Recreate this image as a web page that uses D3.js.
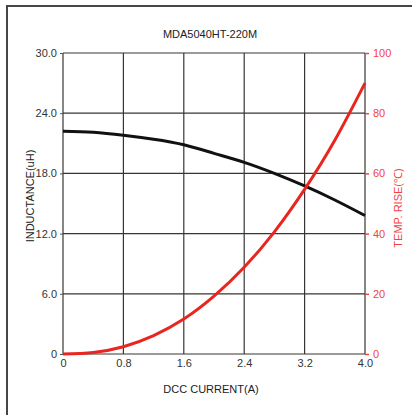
<html>
<head>
  <style>
    body { margin: 0; background: #fff; }
    svg text { font-family: "Liberation Sans", Arial, sans-serif; }
    .grid line { stroke: #3a3535; stroke-width: 1.2px; }
    .left text, .bottom text { fill: #333; font-size: 11px; }
    .right text { fill: #f04444; font-size: 11px; }
  </style>
</head>
<body>
  <div id="chart"></div>
  <script src="https://cdnjs.cloudflare.com/ajax/libs/d3/7.8.5/d3.min.js"></script>
  <script>
  // values
  var current     = [0, 0.4, 0.8, 1.2, 1.6, 2.0, 2.4, 2.8, 3.2, 3.6, 4.0];
  var inductance  = [22.2, 22.1, 21.8, 21.4, 20.85, 20.0, 19.1, 18.0, 16.75, 15.35, 13.8];
  var tempRise    = [0, 0.5, 2.4, 6.1, 11.6, 19.2, 28.8, 40.6, 54.7, 71.0, 90.0];
  var xTicks      = [0, 0.8, 1.6, 2.4, 3.2, 4.0];
  var xTickLabels = ["0", "0.8", "1.6", "2.4", "3.2", "4.0"];
  var yTicks      = [0, 6, 12, 18, 24, 30];
  var yTickLabels = ["0", "6.0", "12.0", "18.0", "24.0", "30.0"];
  var tTicks      = [0, 20, 40, 60, 80, 100];

  var W = 412, H = 415;
  var pLeft = 63, pRight = 365, pTop = 53, pBottom = 354;

  var svg = d3.select("#chart").append("svg")
      .attr("width", W)
      .attr("height", H);

  // outer frame
  svg.append("rect")
      .attr("x", 7).attr("y", 6)
      .attr("width", 430).attr("height", 430)
      .style("fill", "none")
      .style("stroke", "#4a4545")
      .style("stroke-width", 2);

  var x = d3.scaleLinear().domain([0, 4]).range([pLeft, pRight]);
  var y = d3.scaleLinear().domain([0, 30]).range([pBottom, pTop]);
  var yT = d3.scaleLinear().domain([0, 100]).range([pBottom, pTop]);

  // grid
  var grid = svg.append("g").classed("grid", true);
  grid.selectAll("line.v").data(xTicks).enter().append("line")
      .attr("x1", function (d) { return x(d); })
      .attr("x2", function (d) { return x(d); })
      .attr("y1", pTop).attr("y2", pBottom);
  grid.selectAll("line.h").data(yTicks).enter().append("line")
      .attr("y1", function (d) { return y(d); })
      .attr("y2", function (d) { return y(d); })
      .attr("x1", pLeft).attr("x2", pRight);

  // axes
  var la = svg.append("g").classed("left", true)
      .attr("transform", "translate(" + pLeft + ",0)")
      .call(d3.axisLeft(y).tickValues(yTicks)
        .tickFormat(function (d, i) { return yTickLabels[i]; })
        .tickSize(3).tickPadding(3));
  la.select(".domain").remove();
  la.selectAll(".tick line").style("stroke", "#555");

  var ba = svg.append("g").classed("bottom", true)
      .attr("transform", "translate(0," + pBottom + ")")
      .call(d3.axisBottom(x).tickValues(xTicks)
        .tickFormat(function (d, i) { return xTickLabels[i]; })
        .tickSize(0).tickPadding(5));
  ba.select(".domain").remove();

  var ra = svg.append("g").classed("right", true)
      .attr("transform", "translate(" + pRight + ",0)")
      .call(d3.axisRight(yT).tickValues(tTicks).tickSize(4).tickPadding(4));
  ra.select(".domain").remove();
  ra.selectAll(".tick line").style("stroke", "#f04444").style("stroke-width", 1.5);

  // curves
  var lineL = d3.line()
      .x(function (d, i) { return x(current[i]); })
      .y(function (d) { return y(d); })
      .curve(d3.curveNatural);
  var lineT = d3.line()
      .x(function (d, i) { return x(current[i]); })
      .y(function (d) { return yT(d); })
      .curve(d3.curveNatural);

  svg.append("path")
      .attr("d", lineL(inductance))
      .style("fill", "none")
      .style("stroke", "#111")
      .style("stroke-width", 3);

  svg.append("path")
      .attr("d", lineT(tempRise))
      .style("fill", "none")
      .style("stroke", "#e8261f")
      .style("stroke-width", 3);

  // titles
  svg.append("text")
      .attr("x", 210).attr("y", 38)
      .text("MDA5040HT-220M")
      .style("text-anchor", "middle")
      .style("font-size", "11px")
      .style("fill", "#222");

  svg.append("text")
      .attr("x", 211).attr("y", 393)
      .text("DCC CURRENT(A)")
      .style("text-anchor", "middle")
      .style("font-size", "11px")
      .style("fill", "#222");

  svg.append("text")
      .attr("transform", "translate(34,196) rotate(-90)")
      .text("INDUCTANCE(uH)")
      .style("text-anchor", "middle")
      .style("font-size", "11px")
      .style("fill", "#222");

  svg.append("text")
      .attr("transform", "translate(402,208) rotate(-90)")
      .text("TEMP. RISE(\u2103)")
      .style("text-anchor", "middle")
      .style("font-size", "11px")
      .style("fill", "#f04444");
  </script>
</body>
</html>
